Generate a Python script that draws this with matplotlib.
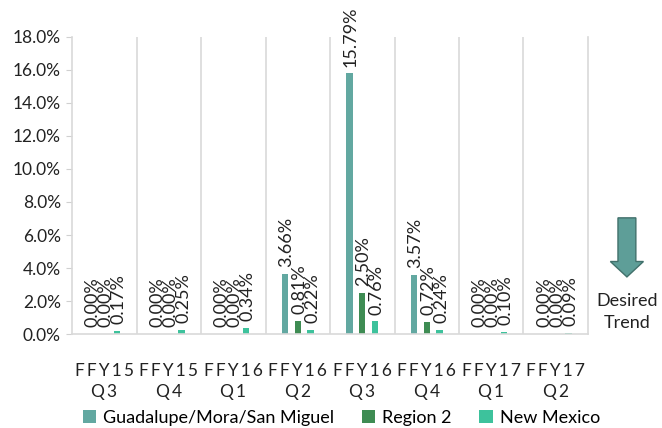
import numpy as np
import matplotlib.pyplot as plt
from matplotlib.patches import FancyArrow

plt.rcParams['font.family'] = ['Lato', 'DejaVu Sans']

# Data
quarters = ["FFY15\nQ3", "FFY15\nQ4", "FFY16\nQ1", "FFY16\nQ2",
            "FFY16\nQ3", "FFY16\nQ4", "FFY17\nQ1", "FFY17\nQ2"]
series_names = ["Guadalupe/Mora/San Miguel", "Region 2", "New Mexico"]
guadalupe = [0.00, 0.00, 0.00, 3.66, 15.79, 3.57, 0.00, 0.00]
region2 = [0.00, 0.00, 0.00, 0.81, 2.50, 0.72, 0.00, 0.00]
new_mexico = [0.17, 0.25, 0.34, 0.22, 0.76, 0.24, 0.10, 0.09]
colors = ["#62A8A1", "#3E8C53", "#3DC29C"]


def spaced(label):
    # Excel-like letter spacing on the category labels (thin spaces)
    return "\n".join("\u2009".join(line) for line in label.split("\n"))


fig = plt.figure(figsize=(6.62, 4.28), dpi=100)
ax = fig.add_axes([0.1088, 0.2196, 0.7794, 0.694])

x = np.arange(len(quarters))
width = 0.1
offsets = [-0.2, 0.0, 0.2]
for vals, off, col, name in zip([guadalupe, region2, new_mexico], offsets, colors, series_names):
    bars = ax.bar(x + off, vals, width=width, color=col, label=name)
    for b, v in zip(bars, vals):
        ax.annotate(f"{v:.2f}%", (b.get_x() + b.get_width() / 2, b.get_height()),
                    xytext=(1, 5), textcoords="offset points",
                    rotation=90, ha="center", va="bottom", fontsize=13, color="#222222")

ax.set_xlim(-0.5, len(quarters) - 0.5)
ax.set_ylim(0, 18)
ax.set_yticks(np.arange(0, 18.1, 2))
ax.set_yticklabels([f"{t:.1f}%" for t in np.arange(0, 18.1, 2)], fontsize=12.5)
ax.set_xticks(x)
ax.set_xticklabels([spaced(q) for q in quarters], fontsize=12.5, color="#222222", linespacing=1.35)
ax.tick_params(axis="x", length=0, pad=21)
ax.tick_params(axis="y", length=4, color="#d0d0d0", pad=4, labelcolor="#222222")

for b in np.arange(0.5, len(quarters) - 0.5, 1.0):
    ax.axvline(b, color="#d9d9d9", lw=1.2, zorder=0)
ax.spines["top"].set_visible(False)
for side in ["left", "right", "bottom"]:
    ax.spines[side].set_color("#d9d9d9")
    ax.spines[side].set_linewidth(1.2)

ax.legend(loc="upper center", bbox_to_anchor=(0.522, -0.2), ncol=3, frameon=False,
          fontsize=13, handlelength=0.75, handleheight=0.75, handletextpad=0.4,
          columnspacing=1.5)

# Desired trend arrow
arrow = FancyArrow(0.947, 0.491, 0, -0.138, width=0.027, head_width=0.05,
                   head_length=0.036, length_includes_head=True,
                   transform=fig.transFigure, facecolor="#5E9E98",
                   edgecolor="#41706B", lw=1)
fig.patches.append(arrow)
fig.text(0.947, 0.271, "Desired\nTrend", ha="center", va="center", fontsize=13,
         linespacing=1.45, color="#222222")

fig.savefig("out.png", dpi=100)
